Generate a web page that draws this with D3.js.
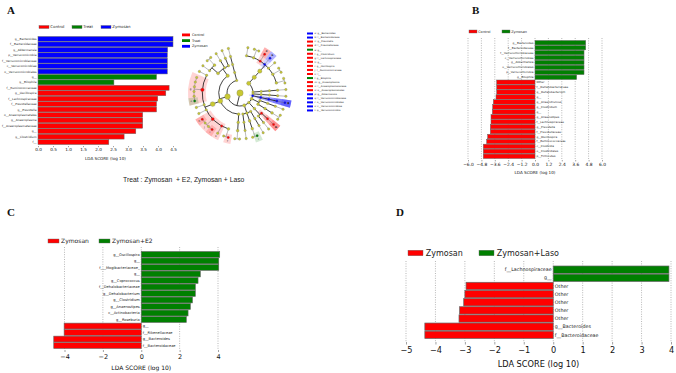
<!DOCTYPE html>
<html>
<head>
<meta charset="utf-8">
<title>LEfSe</title>
<script src="https://cdn.jsdelivr.net/npm/d3@7"></script>
<style>
  body { margin: 0; background: #fff; }
  svg { display: block; font-family: "DejaVu Sans", sans-serif; }
</style>
</head>
<body>
<script>
// ---- panel A bars ----
var aLabels = ["g__Bacteroides", "f__Bacteroidaceae", "g__Akkermansia", "p__Verrucomicrobia",
  "f__Verrucomicrobiaceae", "c__Verrucomicrobiae", "o__Verrucomicrobiales", "g__", "g__Bilophila",
  "f__Ruminococcaceae", "g__Oscillospira", "f__Lachnospiraceae", "f__Prevotellaceae", "g__Prevotella",
  "o__Anaeroplasmatales", "g__Anaeroplasma", "f__Anaeroplasmataceae", "g__", "g__Clostridium", "f__"];
var aValues = [4.5, 4.5, 4.32, 4.31, 4.31, 4.31, 4.31, 3.95, 2.53,
  4.37, 4.26, 3.99, 3.95, 3.95, 3.49, 3.49, 3.49, 3.26, 2.87, 2.36];
var aGroups = ["Zymosan", "Zymosan", "Zymosan", "Zymosan", "Zymosan", "Zymosan", "Zymosan", "Treat", "Treat",
  "Control", "Control", "Control", "Control", "Control", "Control", "Control", "Control", "Control", "Control", "Control"];
var aTicks = [0, 0.5, 1, 1.5, 2, 2.5, 3, 3.5, 4, 4.5];

// ---- panel B bars (negative = Control) ----
var bLabels = ["g__Bacteroides", "f__Bacteroidaceae", "f__Verrucomicrobiaceae", "c__Verrucomicrobiae",
  "g__Akkermansia", "o__Verrucomicrobiales", "p__Verrucomicrobia", "g__Bilophila", "Other",
  "f__Dehalobacteriaceae", "g__Dehalobacterium", "g__", "g__Anaerotruncus", "g__Clostridium", "g__",
  "g__Anaerostipes", "f__Lachnospiraceae", "g__Prevotella", "f__Prevotellaceae", "g__Oscillospira",
  "f__Ruminococcaceae", "c__Clostridia", "o__Clostridiales", "p__Firmicutes"];
var bValues = [4.54, 4.54, 4.39, 4.39, 4.39, 4.39, 4.39, 3.73, -3.43,
  -3.43, -3.43, -3.49, -3.73, -3.79, -3.82, -3.94, -3.94, -4.0, -4.0, -4.24, -4.33, -4.63, -4.63, -4.63];
var bTicks = [-6, -4.8, -3.6, -2.4, -1.2, 0, 1.2, 2.4, 3.6, 4.8, 6];

// ---- panel C bars (negative = Zymosan) ----
var cLabels = ["g__Oscillospira", "g__", "f___Mogibacteriaceae_", "g__", "g__Coprococcus",
  "f__Dehalobacteriaceae", "g__Dehalobacterium", "g__Clostridium", "g__Anaerostipes", "c__Actinobacteria",
  "g__Roseburia", "g__", "f__Rikenellaceae", "g__Bacteroides", "f__Bacteroidaceae"];
var cValues = [4.09, 4.04, 4.04, 3.08, 2.96, 2.82, 2.82, 2.67, 2.56, 2.44, 2.35, -4.02, -4.02, -4.56, -4.56];
var cTicks = [-4, -2, 0, 2, 4];

// ---- panel D bars (negative = Zymosan) ----
var dLabels = ["f__Lachnospiraceae", "g__", "Other", "Other", "Other", "Other", "Other",
  "g__Bacteroides", "f__Bacteroidaceae"];
var dValues = [3.93, 3.93, -2.96, -3.0, -3.04, -3.18, -3.2, -4.36, -4.36];
var dTicks = [-5, -4, -3, -2, -1, 0, 1, 2, 3, 4];

// ---- cladogram taxonomy ----
var cladoLineages = [
  "p__Bacteroidetes|c__Bacteroidia|o__Bacteroidales|f__S24-7|g__",
  "p__Bacteroidetes|c__Bacteroidia|o__Bacteroidales|f__Rikenellaceae|g__",
  "p__Bacteroidetes|c__Bacteroidia|o__Bacteroidales|f__Rikenellaceae|g__Rikenella",
  "p__Bacteroidetes|c__Bacteroidia|o__Bacteroidales|f__Prevotellaceae|g__Prevotella",
  "p__Bacteroidetes|c__Bacteroidia|o__Bacteroidales|f__Bacteroidaceae|g__Bacteroides",
  "p__Bacteroidetes|c__Bacteroidia|o__Bacteroidales|f__Porphyromonadaceae|g__Parabacteroides",
  "p__Bacteroidetes|c__Bacteroidia|o__Bacteroidales|f__Odoribacteraceae|g__Odoribacter",
  "p__Bacteroidetes|c__Bacteroidia|o__Bacteroidales|f__Odoribacteraceae|g__Butyricimonas",
  "p__Bacteroidetes|c__Bacteroidia|o__Bacteroidales|f__Paraprevotellaceae|g__Paraprevotella",
  "p__Bacteroidetes|c__Bacteroidia|o__Bacteroidales|f__Paraprevotellaceae|g__CF231",
  "p__Deferribacteres|c__Deferribacteres|o__Deferribacterales|f__Deferribacteraceae|g__Mucispirillum",
  "p__TM7|c__TM7-3|o__CW040|f__F16|g__",
  "p__Verrucomicrobia|c__Verrucomicrobiae|o__Verrucomicrobiales|f__Verrucomicrobiaceae|g__Akkermansia",
  "p__Actinobacteria|c__Actinobacteria|o__Bifidobacteriales|f__Bifidobacteriaceae|g__Bifidobacterium",
  "p__Actinobacteria|c__Coriobacteriia|o__Coriobacteriales|f__Coriobacteriaceae|g__Adlercreutzia",
  "p__Actinobacteria|c__Coriobacteriia|o__Coriobacteriales|f__Coriobacteriaceae|g__",
  "p__Tenericutes|c__Mollicutes|o__Anaeroplasmatales|f__Anaeroplasmataceae|g__Anaeroplasma",
  "p__Tenericutes|c__Mollicutes|o__RF39|f__|g__",
  "p__Proteobacteria|c__Betaproteobacteria|o__Burkholderiales|f__Alcaligenaceae|g__Sutterella",
  "p__Proteobacteria|c__Deltaproteobacteria|o__Desulfovibrionales|f__Desulfovibrionaceae|g__Bilophila",
  "p__Proteobacteria|c__Deltaproteobacteria|o__Desulfovibrionales|f__Desulfovibrionaceae|g__Desulfovibrio",
  "p__Proteobacteria|c__Gammaproteobacteria|o__Enterobacteriales|f__Enterobacteriaceae|g__",
  "p__Firmicutes|c__Erysipelotrichi|o__Erysipelotrichales|f__Erysipelotrichaceae|g__Allobaculum",
  "p__Firmicutes|c__Erysipelotrichi|o__Erysipelotrichales|f__Erysipelotrichaceae|g__",
  "p__Firmicutes|c__Clostridia|o__Clostridiales|f__Clostridiaceae|g__Clostridium",
  "p__Firmicutes|c__Clostridia|o__Clostridiales|f__Clostridiaceae|g__",
  "p__Firmicutes|c__Clostridia|o__Clostridiales|f__|g__",
  "p__Firmicutes|c__Clostridia|o__Clostridiales|f__Ruminococcaceae|g__Oscillospira",
  "p__Firmicutes|c__Clostridia|o__Clostridiales|f__Ruminococcaceae|g__Ruminococcus",
  "p__Firmicutes|c__Clostridia|o__Clostridiales|f__Ruminococcaceae|g__Anaerotruncus",
  "p__Firmicutes|c__Clostridia|o__Clostridiales|f__Ruminococcaceae|g__",
  "p__Firmicutes|c__Clostridia|o__Clostridiales|f__Dehalobacteriaceae|g__Dehalobacterium",
  "p__Firmicutes|c__Clostridia|o__Clostridiales|f__Mogibacteriaceae|g__",
  "p__Firmicutes|c__Clostridia|o__Clostridiales|f__Lachnospiraceae|g__",
  "p__Firmicutes|c__Clostridia|o__Clostridiales|f__Lachnospiraceae|g__Coprococcus",
  "p__Firmicutes|c__Clostridia|o__Clostridiales|f__Lachnospiraceae|g__Roseburia",
  "p__Firmicutes|c__Clostridia|o__Clostridiales|f__Lachnospiraceae|g__Dorea",
  "p__Firmicutes|c__Clostridia|o__Clostridiales|f__Lachnospiraceae|g__Anaerostipes",
  "p__Firmicutes|c__Clostridia|o__Clostridiales|f__Lachnospiraceae|g__Blautia",
  "p__Firmicutes|c__Clostridia|o__Clostridiales|f__Peptostreptococcaceae|g__",
  "p__Firmicutes|c__Bacilli|o__Lactobacillales|f__Lactobacillaceae|g__Lactobacillus",
  "p__Firmicutes|c__Bacilli|o__Lactobacillales|f__Streptococcaceae|g__Lactococcus",
  "p__Firmicutes|c__Bacilli|o__Lactobacillales|f__Streptococcaceae|g__Streptococcus",
  "p__Firmicutes|c__Bacilli|o__Turicibacterales|f__Turicibacteraceae|g__Turicibacter",
  "p__Firmicutes|c__Bacilli|o__Bacillales|f__Staphylococcaceae|g__Staphylococcus",
  "p__Cyanobacteria|c__4C0d-2|o__YS2|f__|g__"
];
// marked clades, in key order a..t
var cladoKeyPaths = [
  "p__Bacteroidetes|c__Bacteroidia|o__Bacteroidales|f__Bacteroidaceae|g__Bacteroides",
  "p__Bacteroidetes|c__Bacteroidia|o__Bacteroidales|f__Bacteroidaceae",
  "p__Bacteroidetes|c__Bacteroidia|o__Bacteroidales|f__Prevotellaceae|g__Prevotella",
  "p__Bacteroidetes|c__Bacteroidia|o__Bacteroidales|f__Prevotellaceae",
  "p__Firmicutes|c__Clostridia|o__Clostridiales|f__Lachnospiraceae|g__",
  "p__Firmicutes|c__Clostridia|o__Clostridiales|f__Clostridiaceae|g__Clostridium",
  "p__Firmicutes|c__Clostridia|o__Clostridiales|f__Lachnospiraceae",
  "p__Firmicutes|c__Clostridia|o__Clostridiales|f__Ruminococcaceae|g__",
  "p__Firmicutes|c__Clostridia|o__Clostridiales|f__Ruminococcaceae|g__Oscillospira",
  "p__Firmicutes|c__Clostridia|o__Clostridiales|f__Ruminococcaceae",
  "p__Firmicutes|c__Clostridia|o__Clostridiales|f__",
  "p__Proteobacteria|c__Deltaproteobacteria|o__Desulfovibrionales|f__Desulfovibrionaceae|g__Bilophila",
  "p__Tenericutes|c__Mollicutes|o__Anaeroplasmatales|f__Anaeroplasmataceae|g__Anaeroplasma",
  "p__Tenericutes|c__Mollicutes|o__Anaeroplasmatales|f__Anaeroplasmataceae",
  "p__Tenericutes|c__Mollicutes|o__Anaeroplasmatales",
  "p__Verrucomicrobia|c__Verrucomicrobiae|o__Verrucomicrobiales|f__Verrucomicrobiaceae|g__Akkermansia",
  "p__Verrucomicrobia|c__Verrucomicrobiae|o__Verrucomicrobiales|f__Verrucomicrobiaceae",
  "p__Verrucomicrobia|c__Verrucomicrobiae|o__Verrucomicrobiales",
  "p__Verrucomicrobia|c__Verrucomicrobiae",
  "p__Verrucomicrobia"
];
var cladoKeyGroups = ["Zymosan", "Zymosan", "Control", "Control", "Treat", "Control", "Control", "Control",
  "Control", "Control", "Control", "Treat", "Control", "Control", "Control",
  "Zymosan", "Zymosan", "Zymosan", "Zymosan", "Zymosan"];

var groupColor = { "Control": "#ff0000", "Treat": "#008000", "Zymosan": "#0000ff" };
var RED = "#ff0000", GREEN = "#008000";

var svg = d3.select("body").append("svg")
    .attr("width", 676)
    .attr("height", 373);

// one LEfSe style bar plot
function lefseBars(o)
{
    var x = d3.scaleLinear().domain(o.domain).range(o.xRange);
    var y = d3.scaleBand().domain(d3.range(o.labels.length)).range(o.yRange).paddingInner(0.1);
    var g = svg.append("g");

    if (o.grid) {
        g.selectAll("line.grid").data(o.ticks).enter().append("line")
            .attr("x1", d => x(d)).attr("x2", d => x(d))
            .attr("y1", o.grid[0]).attr("y2", o.grid[1])
            .attr("stroke", "#888").attr("stroke-width", 0.6)
            .attr("stroke-dasharray", "1,1.4");
    }

    g.selectAll("rect.bar").data(o.values).enter().append("rect")
        .attr("x", d => x(Math.min(0, d)))
        .attr("width", d => Math.abs(x(d) - x(0)))
        .attr("y", (d, i) => y(i))
        .attr("height", y.bandwidth())
        .attr("fill", (d, i) => o.color(d, i))
        .attr("stroke", "#666")
        .attr("stroke-width", o.edge);

    // feature names: left of the axis, or on the other side of zero
    g.selectAll("text.lab").data(o.labels).enter().append("text")
        .attr("x", (d, i) => o.split ? (o.values[i] > 0 ? x(0) - 1.5 : x(0) + 1.5) : o.xRange[0] - 1.5)
        .attr("y", (d, i) => y(i) + y.bandwidth() / 2)
        .attr("dy", "0.35em")
        .attr("text-anchor", (d, i) => (!o.split || o.values[i] > 0) ? "end" : "start")
        .attr("font-size", o.labelSize)
        .attr("fill", "#222")
        .text(d => d);

    var axis = d3.axisBottom(x).tickValues(o.ticks).tickFormat(d3.format(o.fmt))
        .tickSize(o.tickLen).tickPadding(o.tickLen);
    var ax = g.append("g").attr("transform", "translate(0," + o.axisY + ")").call(axis);
    ax.select(".domain").remove();
    ax.selectAll("line").attr("stroke", "#444").attr("stroke-width", 0.5);
    ax.selectAll("text").attr("font-size", o.tickSize).attr("font-family", "DejaVu Sans").attr("fill", "#111");

    g.append("text")
        .attr("x", (o.xRange[0] + o.xRange[1]) / 2)
        .attr("y", o.titleY)
        .attr("text-anchor", "middle")
        .attr("font-size", o.titleSize)
        .attr("fill", "#111")
        .text("LDA SCORE (log 10)");
}

function legend(items, x0, y0, boxW, boxH, size)
{
    var g = svg.append("g");
    items.forEach(function (it) {
        g.append("rect").attr("x", it.x).attr("y", y0 - boxH / 2).attr("width", boxW).attr("height", boxH)
            .attr("fill", it.c).attr("stroke", "#666").attr("stroke-width", 0.4);
        g.append("text").attr("x", it.x + boxW + size * 0.35).attr("y", y0).attr("dy", "0.35em")
            .attr("font-size", size).attr("fill", "#222").text(it.t);
    });
}

function panelLetter(t, x, y)
{
    svg.append("text").attr("x", x).attr("y", y)
        .attr("font-family", "Liberation Serif, serif").attr("font-weight", "bold")
        .attr("font-size", 11).attr("fill", "#111").text(t);
}

// ---------- A : bars ----------
lefseBars({
    labels: aLabels, values: aValues, color: (d, i) => groupColor[aGroups[i]],
    domain: [0, 4.5], xRange: [38, 173], yRange: [36.5, 144.5], edge: 0.5,
    ticks: aTicks, fmt: ".1f", tickLen: 1.2, axisY: 146, tickSize: 4.2,
    titleY: 159.5, titleSize: 4.1, labelSize: 2.9, split: false
});
legend([{x: 39, c: RED, t: "Control"}, {x: 72, c: GREEN, t: "Treat"}, {x: 101, c: "#0000ff", t: "Zymosan"}],
    0, 27, 10, 3, 3.9);

// ---------- A : cladogram ----------
(function cladogram()
{
    var cx = 240, cy = 93;
    var rows = [{id: "root", parent: null}], seen = {root: true};
    cladoLineages.forEach(function (s) {
        var parts = s.split("|");
        parts.forEach(function (p, i) {
            var id = parts.slice(0, i + 1).join("|");
            if (!seen[id]) {
                seen[id] = true;
                rows.push({id: id, parent: i ? parts.slice(0, i).join("|") : "root"});
            }
        });
    });
    var root = d3.stratify().id(d => d.id).parentId(d => d.parent)(rows);
    d3.tree().size([2 * Math.PI * 0.955, 1])
        .separation((a, b) => a.parent === b.parent ? 1 : 1.4)(root);

    var rot = 0.1;
    var rad = d3.scaleLinear().domain([1, 5]).range([13, 46]);
    function ang(n) { return n.x + rot; }
    function r(n) { return n.depth ? rad(n.depth) : 0; }
    function px(a, rr) { return [cx + rr * Math.sin(a), cy - rr * Math.cos(a)]; }

    var keyOf = {};
    cladoKeyPaths.forEach((p, i) => keyOf[p] = i);
    var g = svg.append("g");

    // shaded sectors behind marked clades
    var half = (2 * Math.PI * 0.955) / cladoLineages.length / 2;
    var marked = root.descendants().filter(n => keyOf[n.id] !== undefined)
        .sort((a, b) => a.depth - b.depth);
    var sector = d3.arc();
    marked.forEach(function (n) {
        var lv = n.leaves().map(ang);
        g.append("path")
            .attr("transform", "translate(" + cx + "," + cy + ")")
            .attr("d", sector({innerRadius: Math.max(r(n) - 3.5, 0), outerRadius: 52,
                startAngle: d3.min(lv) - half * 1.1, endAngle: d3.max(lv) + half * 1.1}))
            .attr("fill", groupColor[cladoKeyGroups[keyOf[n.id]]])
            .attr("fill-opacity", 0.17);
    });

    // elbow links: radial out to child level, then arc over the children
    root.descendants().filter(n => n.children).forEach(function (n) {
        var rc = r(n.children[0]);
        var a = ang(n), as = n.children.map(ang);
        var a0 = Math.min(a, d3.min(as)), a1 = Math.max(a, d3.max(as));
        var p = d3.path();
        var s = px(a, r(n)), e = px(a, rc);
        p.moveTo(s[0], s[1]);
        p.lineTo(e[0], e[1]);
        var st = px(a0, rc);
        p.moveTo(st[0], st[1]);
        p.arc(cx, cy, rc, a0 - Math.PI / 2, a1 - Math.PI / 2);
        g.append("path").attr("d", p.toString()).attr("fill", "none")
            .attr("stroke", n.depth < 4 ? "#111" : "#666")
            .attr("stroke-width", n.depth < 4 ? 0.8 : 0.45);
    });

    // nodes
    g.selectAll("circle.node").data(root.descendants()).enter().append("circle")
        .attr("cx", n => px(ang(n), r(n))[0])
        .attr("cy", n => px(ang(n), r(n))[1])
        .attr("r", n => Math.min(0.8 + 0.42 * Math.sqrt(n.leaves().length), 3.2))
        .attr("fill", n => keyOf[n.id] !== undefined ? groupColor[cladoKeyGroups[keyOf[n.id]]] : "#c8c832")
        .attr("stroke", "#777").attr("stroke-width", 0.3);

    // key letters at the edge of each sector
    marked.forEach(function (n) {
        var lv = n.leaves().map(ang);
        var p = px((d3.min(lv) + d3.max(lv)) / 2, 49.5);
        g.append("text").attr("x", p[0]).attr("y", p[1]).attr("dy", "0.35em")
            .attr("text-anchor", "middle").attr("font-size", 2.6).attr("fill", "#222")
            .text(String.fromCharCode(97 + keyOf[n.id]));
    });

    // class legend at left
    ["Control", "Treat", "Zymosan"].forEach(function (t, i) {
        g.append("rect").attr("x", 182).attr("y", 33.5 + i * 5.7).attr("width", 8).attr("height", 2.8)
            .attr("fill", groupColor[t]);
        g.append("text").attr("x", 192).attr("y", 34.9 + i * 5.7).attr("dy", "0.35em")
            .attr("font-size", 3.4).attr("fill", "#222").text(t);
    });

    // key list at right
    cladoKeyPaths.forEach(function (p, i) {
        var yy = 33.5 + i * 4.05;
        var name = p.split("|").pop();
        g.append("rect").attr("x", 307).attr("y", yy - 1).attr("width", 6).attr("height", 2)
            .attr("fill", groupColor[cladoKeyGroups[i]]);
        g.append("text").attr("x", 314.5).attr("y", yy).attr("dy", "0.35em")
            .attr("font-size", 2.4).attr("fill", "#222")
            .text(String.fromCharCode(97 + i) + ": " + name);
    });
})();

svg.append("text").attr("x", 123).attr("y", 181.5)
    .attr("font-family", "Liberation Sans, Arial, sans-serif")
    .attr("font-size", 6.8).attr("fill", "#222")
    .style("white-space", "pre")
    .text("Treat : Zymosan  + E2, Zymosan + Laso");

// ---------- B ----------
lefseBars({
    labels: bLabels, values: bValues, color: d => d > 0 ? GREEN : RED,
    domain: [-6, 6], xRange: [468, 602], yRange: [40.5, 158.5], edge: 0.5, grid: [38, 160],
    ticks: bTicks, fmt: ".1f", tickLen: 1.4, axisY: 160, tickSize: 4.4,
    titleY: 173.5, titleSize: 4.1, labelSize: 2.8, split: true
});
legend([{x: 469, c: RED, t: "Control"}, {x: 502, c: GREEN, t: "Zymosan"}], 0, 31.5, 8, 3, 3.4);

// ---------- C ----------
lefseBars({
    labels: cLabels, values: cValues, color: d => d > 0 ? GREEN : RED,
    domain: [-4, 4], xRange: [64.5, 218], yRange: [251.5, 348.5], edge: 0.6, grid: [247, 350],
    ticks: cTicks, fmt: "d", tickLen: 2, axisY: 350, tickSize: 6.5,
    titleY: 369.5, titleSize: 6, labelSize: 3.6, split: true
});
legend([{x: 48, c: RED, t: "Zymosan"}, {x: 99, c: GREEN, t: "Zymosan+E2"}], 0, 241, 11, 4, 6);

// ---------- D ----------
lefseBars({
    labels: dLabels, values: dValues, color: d => d > 0 ? GREEN : RED,
    domain: [-5, 4], xRange: [406, 671], yRange: [266, 338.5], edge: 0.7, grid: [261, 342],
    ticks: dTicks, fmt: "d", tickLen: 2.5, axisY: 342, tickSize: 8.2,
    titleY: 366.5, titleSize: 8.2, labelSize: 4.8, split: true
});
legend([{x: 408, c: RED, t: "Zymosan"}, {x: 479, c: GREEN, t: "Zymosan+Laso"}], 0, 253, 15, 5.5, 8);

panelLetter("A", 7, 14);
panelLetter("B", 472, 14);
panelLetter("C", 7, 216);
panelLetter("D", 396, 216);
</script>
</body>
</html>
